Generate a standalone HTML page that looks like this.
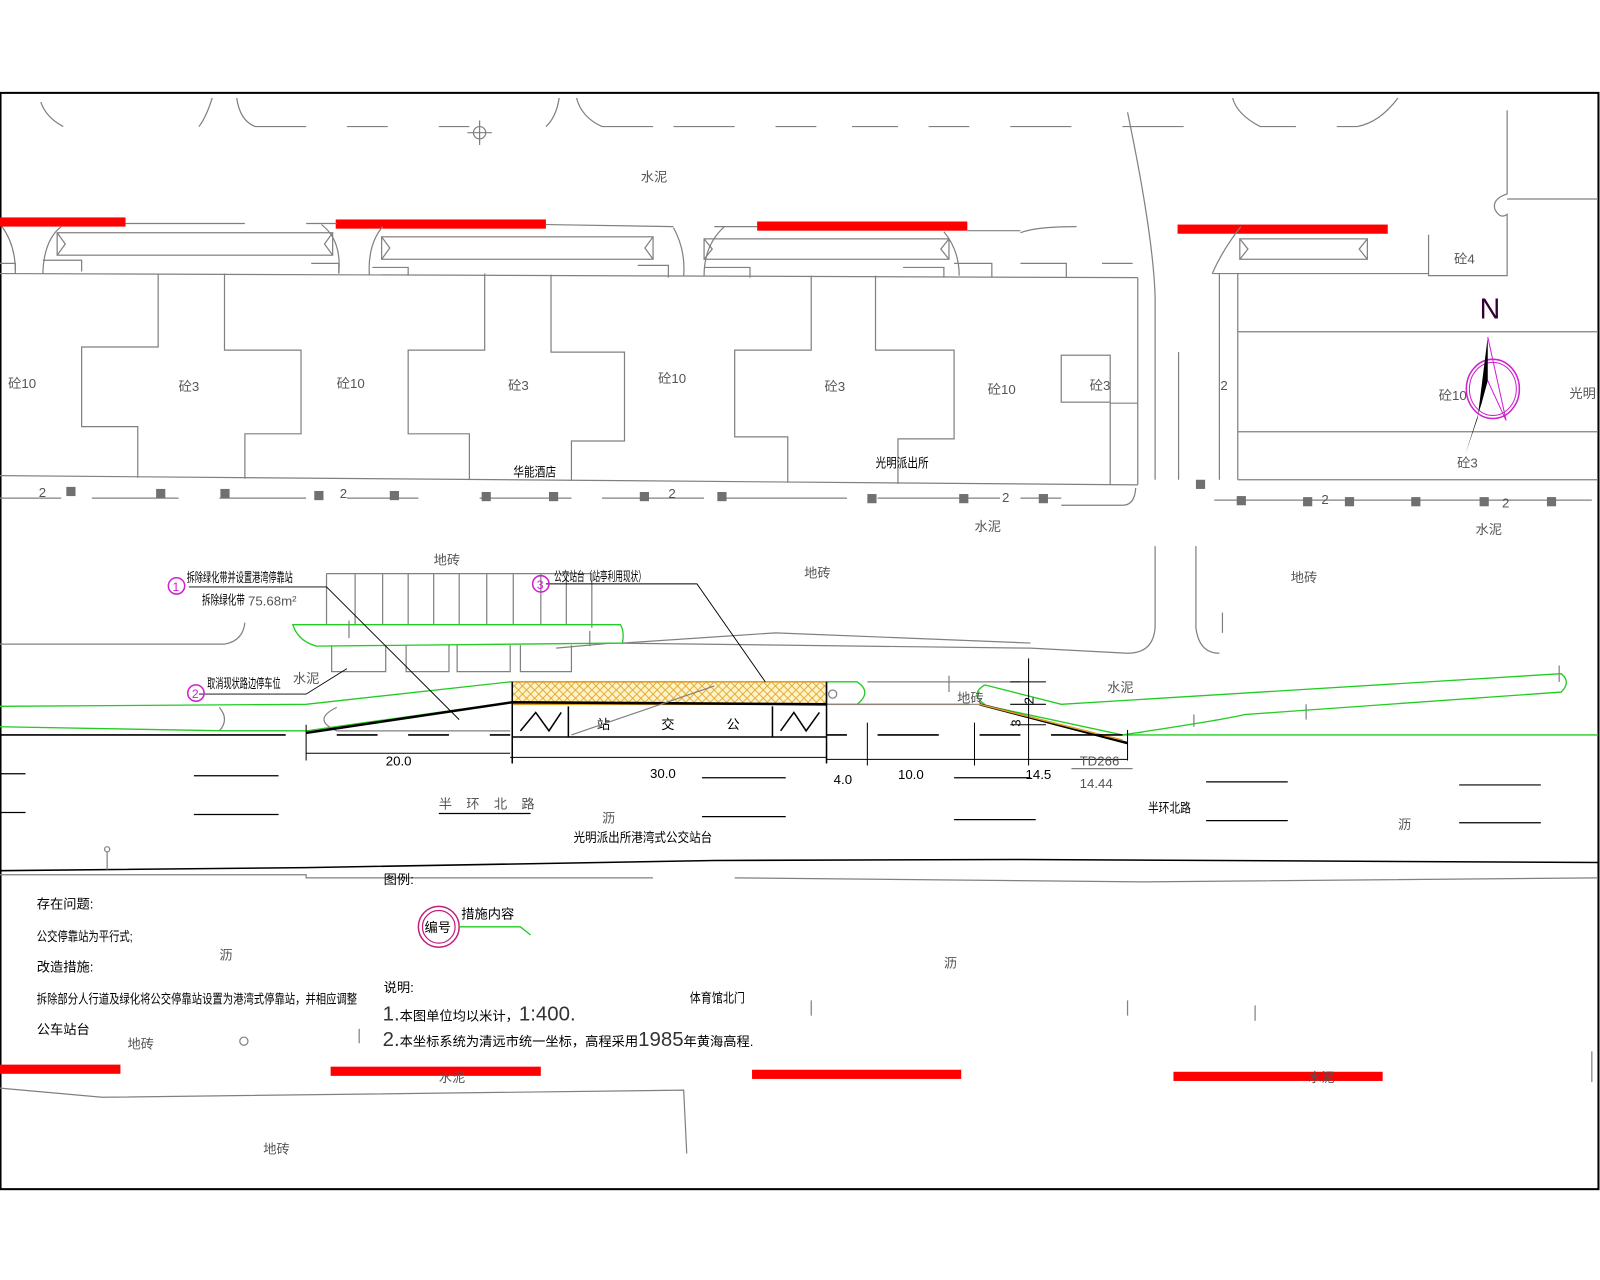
<!DOCTYPE html>
<html><head><meta charset="utf-8"><style>
html,body{margin:0;padding:0;background:#fff}
svg{display:block}
text{font-family:"Liberation Sans","Noto Sans CJK SC",sans-serif}
.g{stroke:#808080;stroke-width:1.2;fill:none}
.k{stroke:#000;fill:none}
.gr{stroke:#22cc22;stroke-width:1.3;fill:none}
.t{fill:#555;font-size:13px}
.c{fill:#000;font-size:13px}
</style></head><body>
<svg width="1600" height="1280" viewBox="0 0 1568 1254" preserveAspectRatio="none" xmlns="http://www.w3.org/2000/svg">
<defs>
<pattern id="hat" width="8" height="8" patternUnits="userSpaceOnUse">
<rect width="8" height="8" fill="#fff3c8"/>
<path d="M0 8L8 0M0 0L8 8" stroke="#e0a020" stroke-width="0.8"/>
</pattern>
</defs>
<rect x="0.5" y="91" width="1566" height="1074" fill="none" stroke="#000" stroke-width="2"/>

<path class="g" d="M40 100 Q45 115 62 124 M208 96 Q202 115 195 124 M232 96 Q235 118 250 124 L300 124 M340 124 L380 124 M430 124 L460 124 M548 96 Q545 115 535 124 M565 96 Q570 115 590 124 L640 124 M660 124 L720 124 M760 124 L800 124 M835 124 L880 124 M910 124 L950 124 M990 124 L1050 124 M1100 124 L1160 124 M1208 96 Q1212 112 1235 124 L1270 124 M1310 124 L1330 124 Q1352 120 1370 96"/>
<circle cx="470" cy="130" r="6" class="g"/><path class="g" d="M470 118V142M458 130H482"/>
<text x="628" y="178" class="t" font-size="12">水泥</text>

<rect x="0" y="213" width="123" height="9" fill="#f00"/>
<rect x="329" y="215" width="206" height="9" fill="#f00"/>
<rect x="742" y="217" width="206" height="9" fill="#f00"/>
<rect x="1154" y="220" width="206" height="9" fill="#f00"/>

<path class="g" d="M123 219L240 219M300 219L330 219M535 220L660 222M700 222L742 222M948 226L1000 226M2 222Q15 240 15 265M60 222Q43 235 42 268M315 220Q335 235 332 268M375 222Q360 240 362 270M660 223Q672 245 670 270M710 222Q690 240 690 270M925 227Q940 245 940 270M1000 228Q1015 222 1055 222"/>
<rect class="g" x="56" y="228" width="270" height="22"/>
<rect class="g" x="374" y="232" width="266" height="22"/>
<rect class="g" x="690" y="234" width="240" height="20"/>
<rect class="g" x="1215" y="234" width="125" height="20"/>
<path class="g" d="M56 228l8 11-8 11M326 228l-8 11 8 11M374 232l8 11-8 11M640 232l-8 11 8 11M690 234l8 10-8 10M930 234l-8 10 8 10M1215 234l8 10-8 10M1340 234l-8 10 8 10"/>
<path class="g" d="M0 258H15V268M42 255H80V266M305 258H332V268M365 262H400V270M625 260H655V272M690 262H735V272M885 262H925V272M935 258H972V272M1000 258H1045V272M1080 258H1110"/>

<path class="g" d="M0 268L1115 272M0 466L1115 475M1115 272V475"/>
<path class="g" d="M155 268V340H80V418H135V468M220 268V343H295V425H240V469M475 268V343H400V425H460V470M540 269V345H612V432H560V471M795 270V343H720V428H772V473M858 270V343H935V430H880V474"/>
<rect class="g" x="1040" y="348" width="48" height="46"/>
<path class="g" d="M1115 395H1088V475"/>
<path class="g" d="M1105 110Q1130 230 1132 290V470M1155 345V470"/>
<path class="g" d="M1477 108V190Q1462 195 1465 205Q1470 215 1477 210V270H1400V230M1477 195H1566M1188 268Q1198 245 1216 222M1188 268L1400 268M1213 268V470M1195 268V470M1213 325H1566M1213 423H1566M1213 470H1566"/>
<text x="1425" y="258" class="t" font-size="15">砼4</text>
<text x="8" y="380" class="t" font-size="17">砼10</text>
<text x="175" y="383" class="t" font-size="17">砼3</text>
<text x="330" y="380" class="t" font-size="17">砼10</text>
<text x="498" y="382" class="t" font-size="17">砼3</text>
<text x="645" y="375" class="t" font-size="17">砼10</text>
<text x="808" y="383" class="t" font-size="17">砼3</text>
<text x="968" y="386" class="t" font-size="17">砼10</text>
<text x="1068" y="382" class="t" font-size="17">砼3</text>
<text x="1410" y="392" class="t" font-size="17">砼10</text>
<text x="1428" y="458" class="t" font-size="15">砼3</text>
<text x="1538" y="390" class="t" font-size="17">光明</text>
<text x="1196" y="382" class="t" font-size="18">2</text>
<text x="503" y="467" class="c" font-size="15" textLength="42" lengthAdjust="spacingAndGlyphs">华能酒店</text>
<text x="858" y="458" class="c" font-size="15" textLength="52" lengthAdjust="spacingAndGlyphs">光明派出所</text>

<text x="1450" y="312" fill="#303" font-size="28" font-family="Liberation Sans">N</text>
<ellipse cx="1463" cy="381" rx="26" ry="29" fill="none" stroke="#d020d0" stroke-width="1.5"/>
<ellipse cx="1463" cy="381" rx="23" ry="26" fill="none" stroke="#d020d0" stroke-width="1"/>
<path d="M1458 330L1448 410L1436 445L1452 395L1458 373Z" fill="#000"/>
<path d="M1458 330L1476 412L1458 373" fill="none" stroke="#d020d0"/>

<path class="g" d="M0 488H60M90 488H175M215 488H300M340 488H410M470 488H560M590 488H690M710 488H830M860 488H980M1000 488H1040M1190 490H1560M1113 478Q1112 495 1100 495H1040"/>
<g fill="#707070">
<rect x="65" y="477" width="9" height="9"/><rect x="153" y="479" width="9" height="9"/><rect x="216" y="479" width="9" height="9"/><rect x="308" y="481" width="9" height="9"/><rect x="382" y="481" width="9" height="9"/><rect x="472" y="482" width="9" height="9"/><rect x="538" y="482" width="9" height="9"/><rect x="627" y="482" width="9" height="9"/><rect x="703" y="482" width="9" height="9"/><rect x="850" y="484" width="9" height="9"/><rect x="940" y="484" width="9" height="9"/><rect x="1018" y="484" width="9" height="9"/><rect x="1172" y="470" width="9" height="9"/><rect x="1212" y="486" width="9" height="9"/><rect x="1277" y="487" width="9" height="9"/><rect x="1318" y="487" width="9" height="9"/><rect x="1383" y="487" width="9" height="9"/><rect x="1450" y="487" width="9" height="9"/><rect x="1516" y="487" width="9" height="9"/>
</g>
<g class="t" font-size="18"><text x="38" y="487">2</text><text x="333" y="488">2</text><text x="655" y="488">2</text><text x="982" y="492">2</text><text x="1295" y="494">2</text><text x="1472" y="497">2</text></g>
<text x="955" y="520" class="t" font-size="12">水泥</text>
<text x="1446" y="523" class="t" font-size="12">水泥</text>
<text x="425" y="553" class="t" font-size="12">地砖</text>
<text x="788" y="566" class="t" font-size="12">地砖</text>
<text x="1265" y="570" class="t" font-size="12">地砖</text>

<path class="g" d="M1132 535V615Q1130 640 1105 640L1010 635L600 630L545 635M1172 535V615Q1175 640 1195 640"/>
<path class="g" d="M0 631H220Q238 628 240 610"/>
<path class="g" d="M320 562H580V615M320 562V612M348 562V612M375 562V612M400 562V612M425 562V612M450 562V612M477 562V612M503 562V612M530 562V612M555 562V612"/>
<path class="g" d="M325 632V658H378V632M398 632V658H440V632M448 632V658H500V632M510 632V658H560V632"/>
<path class="gr" d="M287 612Q292 628 310 633L610 630Q612 618 608 612L300 612Z"/>
<path class="g" d="M610 630L760 620L1010 630"/>
<path class="gr" d="M0 692L300 690L500 668L810 668M0 712L220 716L300 716L500 688"/>
<path class="g" d="M215 693Q225 705 215 716M330 693Q305 705 330 716H500"/>
<rect x="502" y="668" width="308" height="22" fill="url(#hat)" stroke="#e0a020" stroke-width="1.5"/>
<path class="gr" d="M810 668H840Q855 678 840 690H810"/>
<circle cx="816" cy="680" r="4" class="g"/>
<path d="M810 690H950" stroke="#e0a020" stroke-width="1.5"/>
<path class="g" d="M850 668H1000M810 690H960"/>
<path class="gr" d="M965 671Q950 680 965 690M965 671L1040 690L1530 660Q1540 668 1530 678L1220 700Q1200 705 1100 720L960 690"/>
<path class="gr" d="M1100 720L1566 720"/>
<path class="k" stroke-width="2.5" d="M300 718L502 688L810 690M960 690L1105 728"/>
<path d="M960 690L1100 725" stroke="#e0a020" stroke-width="1.5"/>
<path class="k" stroke-width="1.5" d="M502 668V748M810 668V748M557 692V722M757 692V722M502 722H810"/>
<path class="k" stroke-width="1.5" d="M510 716L525 698L538 716L550 698M765 716L778 698L790 716L803 698"/>
<text x="585" y="714" class="c" font-size="24">站</text>
<text x="648" y="714" class="c" font-size="24">交</text>
<text x="712" y="714" class="c" font-size="24">公</text>
<path class="g" d="M560 720L700 672"/>
<path class="k" stroke-width="0.9" d="M185 575H320L450 705M535 572H683L750 668M195 680H300L340 655"/>
<path class="k" stroke-width="1.5" d="M0 720H280M330 720H370M400 720H440M480 720H500M810 720H830M860 720H920M960 720H1000M1030 720H1100"/>
<path class="k" stroke-width="1" d="M300 738H500M500 742H810M810 744H1105M300 710V745M1105 715V745M850 708V750M955 708V750M1008 645V750M990 668H1025M990 690H1025M990 710H1025"/>
<text x="378" y="750" class="c" font-size="18" fill="#222">20.0</text>
<text x="637" y="762" class="c" font-size="18" fill="#222">30.0</text>
<text x="817" y="768" class="c" font-size="18" fill="#222">4.0</text>
<text x="880" y="763" class="c" font-size="18" fill="#222">10.0</text>
<text x="1005" y="763" class="c" font-size="18" fill="#222">14.5</text>
<text x="1058" y="750" class="t" font-size="15">TD266</text>
<text x="1058" y="772" class="t" font-size="15">14.44</text>
<path class="g" d="M1050 753H1110"/>
<text x="1013" y="690" class="c" font-size="16" transform="rotate(-90 1013 690)">2</text>
<text x="1000" y="712" class="c" font-size="16" transform="rotate(-90 1000 712)">3</text>
<text x="1085" y="678" class="t" font-size="12">水泥</text>
<text x="938" y="688" class="t" font-size="11">地砖</text>
<text x="287" y="669" class="t" font-size="12">水泥</text>
<path class="g" d="M930 662V678M1170 700V712M1280 690V705M1528 652V668M1198 600V620M342 608V625M578 618V633"/>
<path class="k" stroke-width="1.2" d="M0 758H25M190 760H273M688 762H770M935 762H1010M1182 766H1262M1430 769H1510M0 796H25M190 798H273M688 800H770M935 803H1015M1182 804H1262M1430 806H1510M430 797H520"/>
<text x="430" y="792" class="t" font-size="16" letter-spacing="14">半环北路</text>
<text x="1125" y="796" class="c" font-size="15" textLength="42" lengthAdjust="spacingAndGlyphs">半环北路</text>
<text x="590" y="806" class="t" font-size="11">沥</text>
<text x="1370" y="812" class="t" font-size="11">沥</text>
<text x="562" y="825" class="c" font-size="16" textLength="136" lengthAdjust="spacingAndGlyphs">光明派出所港湾式公交站台</text>
<path class="k" stroke-width="1.5" d="M0 853L300 850L700 843L1000 842L1566 845"/>
<path class="g" d="M0 857H300L300 860L640 860M720 860L1120 864L1566 860"/>
<circle cx="105" cy="832" r="2.5" class="g"/><path class="g" d="M105 835V852"/>

<circle cx="173" cy="574" r="8" fill="none" stroke="#d020d0" stroke-width="1.5"/><text x="169" y="579" fill="#d020d0" font-size="12">1</text>
<circle cx="530" cy="572" r="8" fill="none" stroke="#d020d0" stroke-width="1.5"/><text x="526" y="577" fill="#d020d0" font-size="12">3</text>
<circle cx="192" cy="679" r="8" fill="none" stroke="#d020d0" stroke-width="1.5"/><text x="188" y="684" fill="#d020d0" font-size="12">2</text>
<text x="183" y="570" class="c" font-size="12" textLength="104" lengthAdjust="spacingAndGlyphs">拆除绿化带并设置港湾停靠站</text>
<text x="198" y="592" class="c" font-size="12" textLength="42" lengthAdjust="spacingAndGlyphs">拆除绿化带</text>
<text x="243" y="593" class="t" font-size="17">75.68m²</text>
<text x="543" y="569" class="c" font-size="12" textLength="90" lengthAdjust="spacingAndGlyphs">公交站台（站亭利用现状）</text>
<text x="203" y="674" class="c" font-size="12" textLength="72" lengthAdjust="spacingAndGlyphs">取消现状路边停车位</text>

<g class="c" font-size="14">
<text x="36" y="890">存在问题:</text>
<text x="36" y="922" textLength="94" lengthAdjust="spacingAndGlyphs">公交停靠站为平行式;</text>
<text x="36" y="952">改造措施:</text>
<text x="36" y="983" textLength="314" lengthAdjust="spacingAndGlyphs">拆除部分人行道及绿化将公交停靠站设置为港湾式停靠站，并相应调整</text>
<text x="36" y="1013">公车站台</text>
<text x="376" y="866">图例:</text>
<text x="376" y="972">说明:</text>
<text x="676" y="982" textLength="54" lengthAdjust="spacingAndGlyphs">体育馆北门</text>
</g>
<text x="375" y="1000" class="c" font-size="13"><tspan font-size="20" fill="#333">1.</tspan>本图单位均以米计，<tspan font-size="20" fill="#333">1:400.</tspan></text>
<text x="375" y="1025" class="c" font-size="13"><tspan font-size="20" fill="#333">2.</tspan>本坐标系统为清远市统一坐标，高程采用<tspan font-size="20" fill="#333">1985</tspan>年黄海高程.</text>
<circle cx="430" cy="908" r="20" fill="none" stroke="#c0207a" stroke-width="1.5"/>
<circle cx="430" cy="908" r="16" fill="none" stroke="#c0207a" stroke-width="1.2"/>
<text x="416" y="913" class="c" font-size="13">编号</text>
<text x="452" y="900" class="c" font-size="13">措施内容</text>
<path class="gr" d="M450 908H510L520 916"/>
<text x="215" y="940" class="t" font-size="11">沥</text>
<text x="925" y="948" class="t" font-size="11">沥</text>
<text x="125" y="1027" class="t" font-size="11">地砖</text>
<circle cx="239" cy="1020" r="4" class="g"/>
<path class="g" d="M352 1008V1022M795 980V995M1105 980V995M1230 985V1000"/>

<rect x="0" y="1043" width="118" height="9" fill="#f00"/>
<rect x="324" y="1045" width="206" height="9" fill="#f00"/>
<rect x="737" y="1048" width="205" height="9" fill="#f00"/>
<rect x="1150" y="1050" width="205" height="9" fill="#f00"/>
<text x="430" y="1060" class="t" font-size="11">水泥</text>
<text x="1282" y="1060" class="t" font-size="11">水泥</text>
<path class="g" d="M0 1066L100 1075L670 1068L673 1130M1560 1030V1060"/>
<text x="258" y="1130" class="t" font-size="11">地砖</text>
</svg>
</body></html>
